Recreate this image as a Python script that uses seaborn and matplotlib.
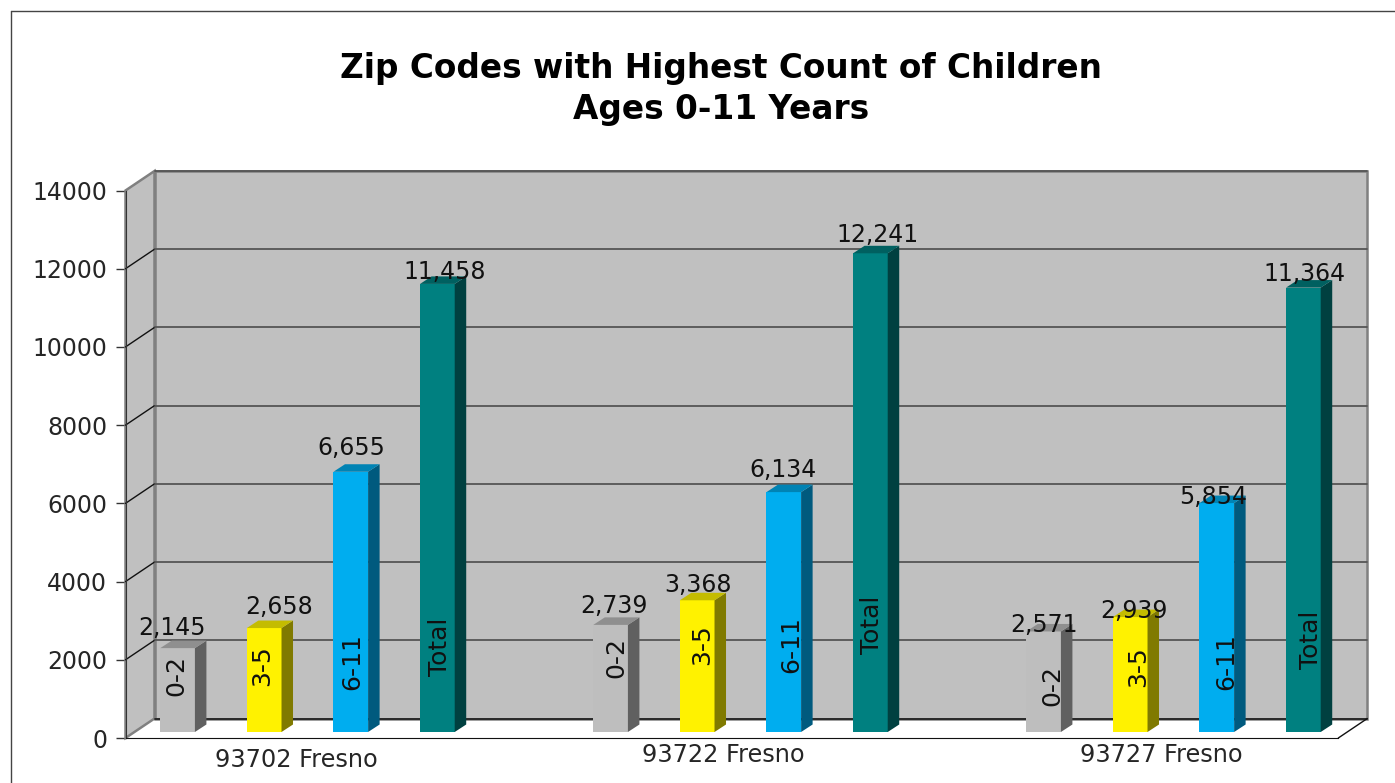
import pandas as pd
import matplotlib
matplotlib.use("Agg")
import matplotlib.pyplot as plt
import seaborn as sns
from matplotlib.lines import Line2D
from matplotlib.patches import Polygon
from matplotlib.transforms import Affine2D

# --- Data ---
zip_codes = ["93702 Fresno", "93722 Fresno", "93727 Fresno"]
age_groups = ["0-2", "3-5", "6-11", "Total"]
ages_0_2 = [2145, 2739, 2571]
ages_3_5 = [2658, 3368, 2939]
ages_6_11 = [6655, 6134, 5854]
ages_total = [11458, 12241, 11364]
y_ticks = [0, 2000, 4000, 6000, 8000, 10000, 12000, 14000]

df = pd.DataFrame({
    "zip": zip_codes * 4,
    "age": [a for a in age_groups for _ in zip_codes],
    "count": ages_0_2 + ages_3_5 + ages_6_11 + ages_total,
})

# --- Colours: front, top, side of each bar ---
front = ["#BEBEBE", "#FFF200", "#00ADEF", "#008080"]
top = ["#8F8F8F", "#C4BC00", "#0083B4", "#006060"]
side = ["#606060", "#807A00", "#005A7E", "#004040"]
wall = "#C0C0C0"

# --- Label nudges in pixels, one row per age group ---
value_dx = [[-6, 3, 0], [15, 1, 4], [1, -1, -4], [7, 7, 1]]
value_dy = [[8, 7, -6], [9, 3, -6], [12, 10, -6], [0, 6, 2]]
inside_dx = [[-1, 6, 9], [-2, 5, 8], [1, 7, 9], [3, 2, 8]]
inside_up = [[56, 74, 46], [66, 87, 65], [70, 87, 70], [85, 107, 92]]
cat_dx = [-11, -17, -12]
cat_dy = [2, 7, 7]

W, H = 1395, 783
sns.set_style("white")
plt.rcParams["font.family"] = ["DejaVu Sans"]
plt.rcParams["text.color"] = "#111111"

fig = plt.figure(figsize=(W / 100, H / 100), dpi=100, facecolor="white")

# front plane of the chart, pixels from the top left of the picture
left, right, y_zero, y_top = 125.5, 1338.3, 738, 190.5
ax = fig.add_axes([left / W, 1 - y_zero / H, (right - left) / W, (y_zero - y_top) / H])
bar_ax = fig.add_axes([left / W, 1 - (y_zero - 6) / H, (right - left) / W, (y_zero - y_top) / H])

xlim = (-0.4203, 2.3806)
ylim = (0, 14000)
for a in (ax, bar_ax):
    a.set_xlim(xlim)
    a.set_ylim(ylim)
    a.patch.set_visible(False)

px_x = (xlim[1] - xlim[0]) / (right - left)
px_y = (ylim[1] - ylim[0]) / (y_zero - y_top)

# --- Walls ---
dx, dy = 29 * px_x, 19.5 * px_y
ax.add_patch(Polygon([(xlim[0] + dx, dy), (xlim[1] + dx, dy), (xlim[1] + dx, 14000 + dy), (xlim[0] + dx, 14000 + dy)],
                     facecolor=wall, edgecolor="#808080", lw=1.8, clip_on=False, zorder=1))
ax.add_patch(Polygon([(xlim[0], 0), (xlim[0] + dx, dy), (xlim[0] + dx, 14000 + dy), (xlim[0], 14000)],
                     facecolor=wall, edgecolor="#808080", lw=1.8, clip_on=False, zorder=1))

for t in y_ticks:
    if 0 < t < 14000:
        ax.plot([xlim[0], xlim[0] + dx], [t, t + dy], color="#111111", lw=1, clip_on=False, zorder=2)
    ax.plot([xlim[0] + dx, xlim[1] + dx], [t + dy, t + dy], color="#555555" if t else "#222222", lw=1.3,
            clip_on=False, zorder=2)
ax.plot([xlim[1], xlim[1] + dx], [0, dy], color="#111111", lw=1, clip_on=False, zorder=2)

# --- Bars ---
sns.barplot(data=df, x="zip", y="count", hue="age", order=zip_codes, hue_order=age_groups,
            palette=front, saturation=1, width=0.8, gap=0.6, legend=False, ax=bar_ax)
bar_ax.set_xlim(xlim)
bar_ax.set_ylim(ylim)
bar_ax.axis("off")

depth_x, depth_y = 11.5 * px_x, 7.5 * px_y
bars = list(bar_ax.patches)
for i, bar in enumerate(bars):
    g, c = divmod(i, len(zip_codes))
    x0, x1 = bar.get_x(), bar.get_x() + bar.get_width()
    h = bar.get_height()
    bar.set_linewidth(0)
    bar_ax.add_patch(Polygon([(x1, 0), (x1 + depth_x, depth_y), (x1 + depth_x, h + depth_y), (x1, h)],
                             facecolor=side[g], edgecolor="none", clip_on=False))
    bar_ax.add_patch(Polygon([(x0, h), (x0 + depth_x, h + depth_y), (x1 + depth_x, h + depth_y), (x1, h)],
                             facecolor=top[g], edgecolor="none", clip_on=False))
    center = (x0 + x1) / 2
    bar_ax.annotate(f"{int(h):,}", (center, h), xytext=(value_dx[g][c], value_dy[g][c]),
                    textcoords="offset pixels", ha="center", va="bottom", fontsize=17, annotation_clip=False, zorder=6)
    bar_ax.annotate(age_groups[g], (center, 0), xytext=(inside_dx[g][c], inside_up[g][c]),
                    textcoords="offset pixels", ha="center", va="center", rotation=90, fontsize=18,
                    annotation_clip=False, zorder=6)

# --- Axes ---
sns.despine(ax=ax, top=True, right=True)
ax.set_zorder(0)
bar_ax.set_zorder(1)
ax.spines["left"].set_color("#333333")
ax.spines["bottom"].set_color("#111111")
ax.spines["left"].set_zorder(3)
ax.spines["bottom"].set_zorder(3)
ax.set_yticks(y_ticks)
ax.tick_params(axis="y", left=True, length=7.2, width=1, color="#333333", pad=6, labelsize=17)
ax.set_xticks(range(len(zip_codes)), zip_codes)
ax.tick_params(axis="x", bottom=False, pad=5, labelsize=17.3)
ax.set_xlabel("")
ax.set_ylabel("")
ax.set_xlim(xlim)
for lbl, x_off, y_off in zip(ax.get_xticklabels(), cat_dx, cat_dy):
    lbl.set_transform(lbl.get_transform() + Affine2D().translate(x_off, y_off))

# --- Title and outer frame ---
fig.text(721 / W, 1 - 89 / H, "Zip Codes with Highest Count of Children\nAges 0-11 Years",
         ha="center", va="center", fontsize=23.6, fontweight="bold", color="black", linespacing=1.27)
fig.add_artist(Line2D([10.5 / W, 10.5 / W], [0, 1 - 11 / H], color="#444444", lw=1))
fig.add_artist(Line2D([10.5 / W, 1], [1 - 11 / H, 1 - 11 / H], color="#444444", lw=1))

plt.savefig("out.png", dpi=100)
print("saved")
